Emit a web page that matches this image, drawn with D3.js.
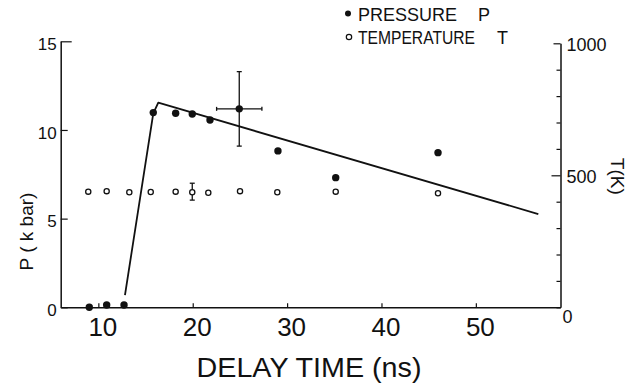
<!DOCTYPE html>
<html>
<head>
<meta charset="utf-8">
<script src="https://cdn.jsdelivr.net/npm/d3@7"></script>
<style>
  html, body { margin: 0; padding: 0; background: #fff; }
  svg { display: block; }
  text { font-family: "Liberation Sans", Arial, sans-serif; fill: #111; }
</style>
</head>
<body>
<svg id="chart" width="644" height="383"></svg>
<script>
// ---- data ----
const pressureTime  = [9.04, 10.88, 12.72, 15.82, 18.19, 19.95, 21.83, 24.93, 29.03, 35.15, 45.99];
const pressureValue = [0, 0.13, 0.13, 10.98, 10.94, 10.9, 10.56, 11.19, 8.82, 7.31, 8.72];
const tempTime  = [8.93, 10.88, 13.28, 15.55, 18.19, 19.95, 21.65, 25.01, 28.96, 35.15, 45.99];
const tempValue = [438, 440, 436, 437, 438, 436, 434, 440, 436, 438, 432];
const fitTime  = [12.82, 15.82, 16.35, 56.62];
const fitValue = [0.69, 10.94, 11.54, 5.26];
// error bars: [time, value, ±time, ±value]
const pressureError = [24.93, 11.19, 2.4, 2.1];
const tempError = [19.95, 438, 0, 32];

const xTicks = [10, 20, 30, 40, 50];
const pTicks = [0, 5, 10, 15];
const tTicks = [0, 100, 200, 300, 400, 500, 600, 700, 800, 900, 1000];
const tLabelTicks = [0, 500, 1000];
const legendLabels = ["PRESSURE", "TEMPERATURE"];
const legendSymbols = ["P", "T"];
const xTitle = "DELAY TIME (ns)";
const pTitle = "P ( k bar)";
const tTitle = "T(K)";

// ---- layout ----
const svg = d3.select("#chart");
const ink = "#111";
const x = d3.scaleLinear().domain([6.01, 58.97]).range([60.7, 560.5]);
const yP = d3.scaleLinear().domain([0, 15]).range([307.3, 41.3]);
const yT = d3.scaleLinear().domain([0, 1000]).range([307.3, 43.3]);

// x axis
const gx = svg.append("g").attr("transform", `translate(0,${yP(0)})`)
  .call(d3.axisBottom(x).tickValues(xTicks).tickSizeInner(-4).tickSizeOuter(0).tickPadding(4));
gx.select(".domain").attr("stroke", ink).attr("stroke-width", 1.5);
gx.selectAll(".tick line").attr("stroke", ink).attr("stroke-width", 1.2);
gx.selectAll(".tick text").attr("font-size", 26).attr("dx", 4).attr("dy", "0.95em")
  .attr("font-family", "Liberation Sans").attr("fill", ink);

// left axis
const gl = svg.append("g").attr("transform", `translate(${x.range()[0]},0)`)
  .call(d3.axisLeft(yP).tickValues(pTicks).tickSizeInner(-7).tickSizeOuter(0).tickPadding(4));
gl.select(".domain").attr("stroke", ink).attr("stroke-width", 1.5);
gl.selectAll(".tick line").attr("stroke", ink).attr("stroke-width", 1.2)
  .attr("x2", d => d === 15 ? 11 : 7);
gl.selectAll(".tick text").attr("font-size", 17).attr("dy", "0.48em")
  .attr("font-family", "Liberation Sans").attr("fill", ink);

// right axis
const gr = svg.append("g").attr("transform", `translate(${x.range()[1]},0)`)
  .call(d3.axisRight(yT).tickValues(tTicks).tickSizeInner(-4).tickSizeOuter(0).tickPadding(6)
    .tickFormat(d => tLabelTicks.includes(d) ? d : ""));
gr.select(".domain").attr("stroke", ink).attr("stroke-width", 1.5);
gr.selectAll(".tick line").attr("stroke", ink).attr("stroke-width", 1.2)
  .attr("x2", d => d === 500 ? -9 : (d === 1000 ? -7 : -4));
gr.selectAll(".tick text").attr("font-size", 18).attr("font-family", "Liberation Sans").attr("fill", ink)
  .attr("x", d => d === 0 ? 2 : 6)
  .attr("dy", d => d === 0 ? "0.85em" : "0.4em");

// axis titles
svg.append("text").attr("x", 309).attr("y", 377)
  .attr("text-anchor", "middle").attr("font-size", 28).attr("textLength", 225)
  .attr("lengthAdjust", "spacingAndGlyphs").attr("fill", ink).text(xTitle);
svg.append("text").attr("transform", `translate(33,231.5) rotate(-90)`)
  .attr("text-anchor", "middle").attr("font-size", 19).attr("fill", ink).text(pTitle);
svg.append("text").attr("transform", `translate(611,${yT(500) + 1}) rotate(90)`)
  .attr("text-anchor", "middle").attr("font-size", 19).attr("fill", ink).text(tTitle);

// fitted line
const fit = fitTime.map((t, i) => [t, fitValue[i]]);
svg.append("path").datum(fit)
  .attr("d", d3.line().x(d => x(d[0])).y(d => yP(d[1])))
  .attr("fill", "none").attr("stroke", ink).attr("stroke-width", 1.8).attr("stroke-linejoin", "round");

// error bars
function errorBar(g, cx, cy, xs, ys, cap) {
  g.append("line").attr("x1", cx).attr("x2", cx).attr("y1", ys[0]).attr("y2", ys[1]);
  g.append("line").attr("x1", cx - cap).attr("x2", cx + cap).attr("y1", ys[0]).attr("y2", ys[0]);
  g.append("line").attr("x1", cx - cap).attr("x2", cx + cap).attr("y1", ys[1]).attr("y2", ys[1]);
  if (xs) {
    g.append("line").attr("x1", xs[0]).attr("x2", xs[1]).attr("y1", cy).attr("y2", cy);
    g.append("line").attr("x1", xs[0]).attr("x2", xs[0]).attr("y1", cy - 2).attr("y2", cy + 2);
    g.append("line").attr("x1", xs[1]).attr("x2", xs[1]).attr("y1", cy - 2).attr("y2", cy + 2);
  }
}
const ge = svg.append("g").attr("stroke", ink).attr("stroke-width", 1.3);
errorBar(ge, x(pressureError[0]), yP(pressureError[1]),
  [x(pressureError[0] - pressureError[2]), x(pressureError[0] + pressureError[2])],
  [yP(pressureError[1] + pressureError[3]), yP(pressureError[1] - pressureError[3])], 2.5);
errorBar(ge, x(tempError[0]), yT(tempError[1]), null,
  [yT(tempError[1] + tempError[3]), yT(tempError[1] - tempError[3])], 2.5);

// temperature points (open)
svg.append("g").selectAll("circle").data(tempTime.map((t, i) => [t, tempValue[i]])).join("circle")
  .attr("cx", d => x(d[0])).attr("cy", d => yT(d[1])).attr("r", 2.6)
  .attr("fill", "#fff").attr("stroke", ink).attr("stroke-width", 1.3);

// pressure points (filled)
svg.append("g").selectAll("circle").data(pressureTime.map((t, i) => [t, pressureValue[i]])).join("circle")
  .attr("cx", d => x(d[0])).attr("cy", d => yP(d[1])).attr("r", 3.7).attr("fill", ink);

// legend
const lg = svg.append("g");
const legendY = [13.5, 37];
lg.append("circle").attr("cx", 348).attr("cy", legendY[0]).attr("r", 3).attr("fill", ink);
lg.append("circle").attr("cx", 349).attr("cy", legendY[1]).attr("r", 2.7).attr("fill", "#fff")
  .attr("stroke", ink).attr("stroke-width", 1.2);
const legendLen = [99, 117];
const symbolX = [478, 497];
legendLabels.forEach((lab, i) => {
  lg.append("text").attr("x", 358).attr("y", legendY[i] + 7).attr("font-size", 18)
    .attr("textLength", legendLen[i]).attr("lengthAdjust", "spacingAndGlyphs").attr("fill", ink).text(lab);
  lg.append("text").attr("x", symbolX[i]).attr("y", legendY[i] + 7).attr("font-size", 18)
    .attr("fill", ink).text(legendSymbols[i]);
});
</script>
</body>
</html>
